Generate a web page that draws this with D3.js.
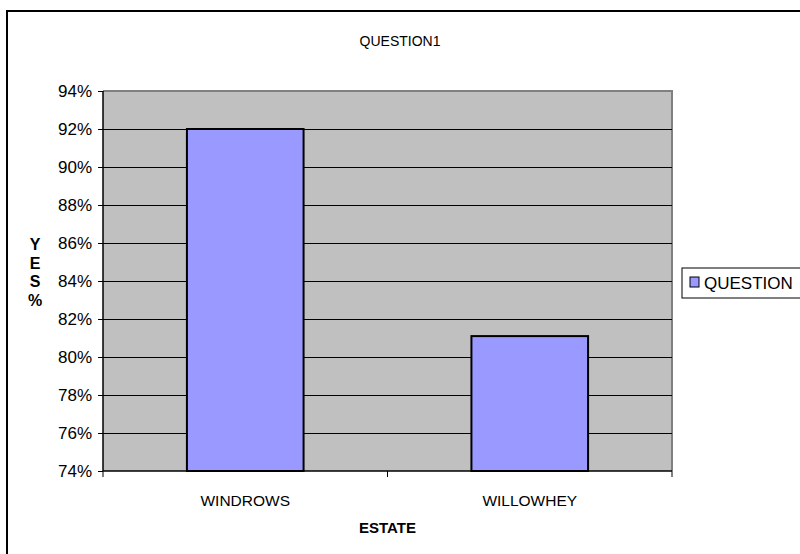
<!DOCTYPE html>
<html>
<head>
<meta charset="utf-8">
<script src="https://cdn.jsdelivr.net/npm/d3@7/dist/d3.min.js"></script>
<style>
  html, body { margin: 0; padding: 0; background: #fff; }
  svg { display: block; font-family: "Liberation Sans", Arial, sans-serif; }
</style>
</head>
<body>
<svg id="chart" width="800" height="554"></svg>
<script>
const categories = ["WINDROWS", "WILLOWHEY"];
const seriesName = "QUESTION";
const values = [92, 81.1];
const yTicks = [74, 76, 78, 80, 82, 84, 86, 88, 90, 92, 94];
const title = "QUESTION1";
const xTitle = "ESTATE";
const yTitleChars = ["Y", "E", "S", "%"];

const svg = d3.select("#chart");
const plot = { left: 103, right: 672, top: 91, bottom: 471 };

// outer frame (extends beyond the canvas at right and bottom)
svg.append("rect").attr("x", 7).attr("y", 11).attr("width", 820).attr("height", 580)
  .attr("fill", "#fff").attr("stroke", "#000").attr("stroke-width", 2);

const x = d3.scaleBand().domain(categories).range([plot.left, plot.right])
  .paddingInner(0.59).paddingOuter(0.295);
const y = d3.scaleLinear().domain([74, 94]).range([plot.bottom, plot.top]);

// plot background
svg.append("rect").attr("x", plot.left).attr("y", plot.top)
  .attr("width", plot.right - plot.left).attr("height", plot.bottom - plot.top)
  .attr("fill", "#C0C0C0");
// plot border (gray top/right)
svg.append("path")
  .attr("d", `M${plot.left},${plot.top}H${plot.right}V${plot.bottom}`)
  .attr("fill", "none").attr("stroke", "#808080").attr("stroke-width", 2);

// gridlines
svg.append("g").selectAll("line").data(yTicks.filter(t => t > 74 && t < 94)).join("line")
  .attr("x1", plot.left).attr("x2", plot.right)
  .attr("y1", d => Math.round(y(d)) + 0.5).attr("y2", d => Math.round(y(d)) + 0.5)
  .attr("stroke", "#000").attr("stroke-width", 1);

// bars
svg.append("g").selectAll("rect").data(values).join("rect")
  .attr("x", (d, i) => x(categories[i]))
  .attr("y", d => y(d))
  .attr("width", x.bandwidth())
  .attr("height", d => plot.bottom - y(d))
  .attr("fill", "#9999FF").attr("stroke", "#000").attr("stroke-width", 2);

// y axis
const yAxis = d3.axisLeft(y).tickValues(yTicks).tickSize(5).tickPadding(6)
  .tickFormat(d => d + "%");
const gy = svg.append("g").attr("transform", `translate(${plot.left},0)`).call(yAxis);
gy.select(".domain").attr("stroke", "#000").attr("stroke-width", 1.5).attr("d", `M0,${plot.top}V${plot.bottom}`);
gy.selectAll("line").attr("stroke", "#000");
gy.selectAll("text").attr("font-size", 17).attr("fill", "#000")
  .attr("font-family", "Liberation Sans, Arial, sans-serif");

// x axis
const xEdge = d3.scaleLinear().domain([0, categories.length]).range([plot.left, plot.right]);
const gx = svg.append("g").attr("transform", `translate(0,${plot.bottom})`);
gx.append("line").attr("x1", plot.left).attr("x2", plot.right).attr("y1", 0).attr("y2", 0)
  .attr("stroke", "#000").attr("stroke-width", 1.5);
gx.selectAll(".tk").data(d3.range(categories.length + 1)).join("line").attr("class", "tk")
  .attr("x1", d => xEdge(d)).attr("x2", d => xEdge(d)).attr("y1", 0).attr("y2", 6)
  .attr("stroke", "#000");
gx.selectAll(".lbl").data(categories).join("text").attr("class", "lbl")
  .attr("x", d => x(d) + x.bandwidth() / 2).attr("y", 35)
  .attr("text-anchor", "middle").attr("font-size", 15.5).text(d => d);

// titles
svg.append("text").attr("x", 400).attr("y", 46).attr("text-anchor", "middle")
  .attr("font-size", 14).text(title);
svg.append("text").attr("x", (plot.left + plot.right) / 2).attr("y", 533)
  .attr("text-anchor", "middle").attr("font-size", 15).attr("font-weight", "bold").text(xTitle);
svg.append("g").selectAll("text").data(yTitleChars).join("text")
  .attr("x", 35).attr("y", (d, i) => 250 + i * 18.5)
  .attr("text-anchor", "middle").attr("font-size", 16).attr("font-weight", "bold").text(d => d);

// legend
const lg = svg.append("g");
lg.append("rect").attr("x", 682).attr("y", 268).attr("width", 140).attr("height", 30)
  .attr("fill", "#fff").attr("stroke", "#000").attr("stroke-width", 1);
lg.append("rect").attr("x", 690).attr("y", 277).attr("width", 9).attr("height", 10)
  .attr("fill", "#9999FF").attr("stroke", "#000").attr("stroke-width", 1);
lg.append("text").attr("x", 704).attr("y", 289).attr("font-size", 17).text(seriesName);
</script>
</body>
</html>
